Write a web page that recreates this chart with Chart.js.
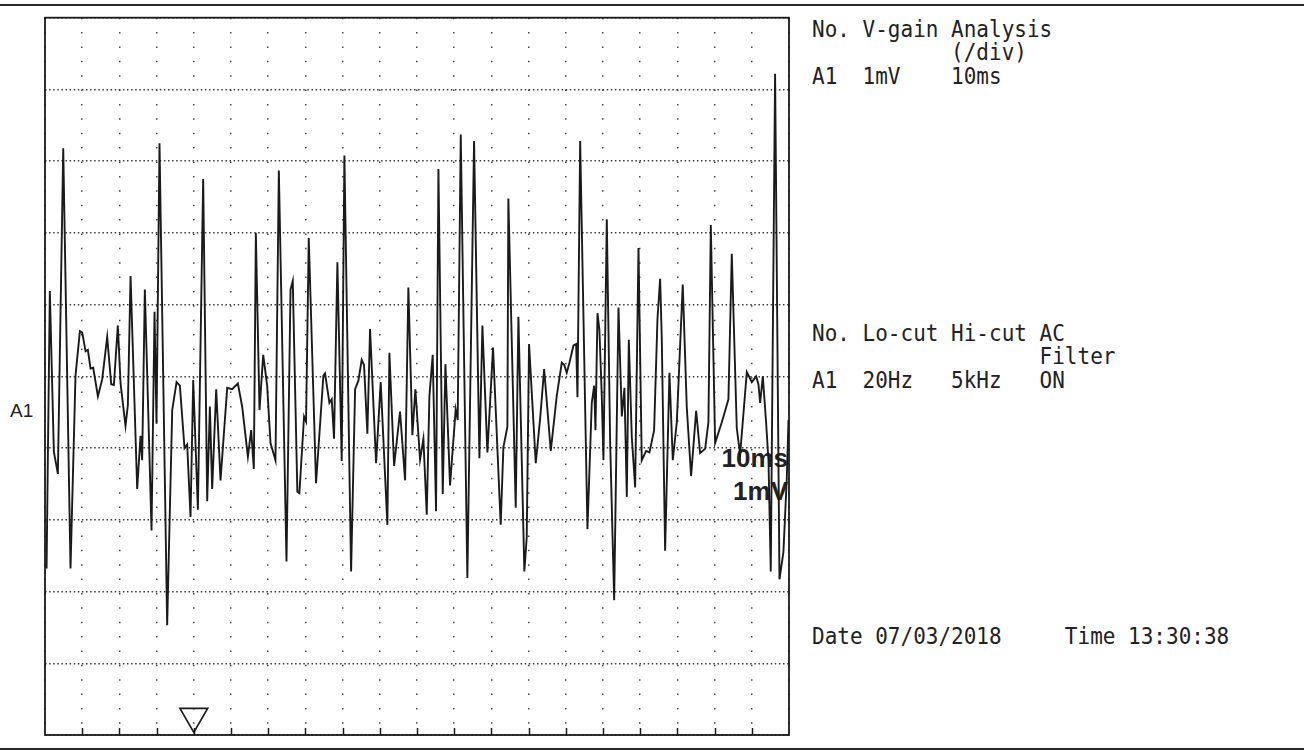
<!DOCTYPE html>
<html lang="en">
<head>
<meta charset="UTF-8">
<title>A1 - EMG trace</title>
<script src="https://cdn.jsdelivr.net/npm/chart.js"></script>
<style>
  * { margin: 0; padding: 0; box-sizing: border-box; }
  body { background: #fff; width: 1304px; height: 755px; overflow: hidden; }
  .page { position: relative; width: 1304px; height: 755px; }
  .rule { position: absolute; left: 0; width: 1304px; height: 2px; background: #2a2a2a; }
  .mono {
    position: absolute; left: 812px;
    font-family: 'DejaVu Sans Mono', monospace; font-size: 21px; line-height: 21.4px;
    white-space: pre; color: #222;
    transform: scaleY(1.1); transform-origin: 0 0;
  }
  .label { position: absolute; font-family: 'Liberation Sans', Arial, sans-serif; color: #222; }
  .scale { font-weight: bold; font-size: 26px; line-height: 26px; right: 516px; text-align: right; }
  #trace { position: absolute; left: 0; top: 0; }
</style>
</head>
<body>
<div class="page">
  <div class="rule" style="top:4px"></div>
  <div class="rule" style="top:748px"></div>

  <div class="label" style="left:10px; top:401px; font-size:19px; line-height:19px;">A1</div>
  <div class="label scale" style="top:445px;">10ms</div>
  <div class="label scale" style="top:478px;">1mV</div>

  <div class="mono" style="top:18px">No. V-gain Analysis
           (/div)
A1  1mV    10ms</div>
  <div class="mono" style="top:322px">No. Lo-cut Hi-cut AC
                  Filter
A1  20Hz   5kHz   ON</div>
  <div class="mono" style="top:625px">Date 07/03/2018     Time 13:30:38</div>

  <canvas id="trace" width="1304" height="755"></canvas>
</div>

<script>
// time axis in ms (10 ms / div, grid every 5 ms), amplitude in mV (1 mV / div)
const timeMs = [
  0.21, 0.65, 1.19, 1.73, 2.45, 3.43, 4.10, 4.69, 5.00, 5.45, 5.76, 6.12, 6.48, 7.11, 7.69,
  8.36, 8.90, 9.26, 9.79, 10.15, 10.82, 11.14, 11.50, 12.39, 12.84, 13.06, 13.42, 14.32, 14.72,
  14.99, 15.39, 16.42, 17.10, 17.68, 18.13, 18.75, 19.11, 19.56, 19.92, 20.55, 21.26, 21.80,
  22.16, 22.47, 23.01, 23.59, 24.49, 25.16, 25.92, 26.50, 27.27, 27.71, 28.07, 28.34, 28.83,
  29.33, 29.86, 30.31, 30.98, 31.43, 32.46, 33.00,
  33.30, 33.92, 34.19, 34.82, 35.09, 35.45, 36.43, 37.42, 37.64, 38.23, 38.54, 38.85, 39.30,
  39.88, 40.24, 41.14, 41.68, 42.12, 42.57, 42.88, 43.33, 43.69, 44.50, 45.12, 46.02, 46.29,
  46.92, 47.72, 48.40, 48.84, 49.38, 49.78, 50.41, 50.86, 51.31, 51.67, 52.11, 52.56, 52.88,
  53.46, 53.82, 54.44, 55.20, 55.47, 55.88, 56.77, 57.67, 58.39, 58.79, 59.46, 60.22, 61.25,
  61.61, 62.15, 62.28, 63.27, 63.63, 64.43, 64.75, 65.06, 65.96,
  66.55, 67.09, 67.98, 68.79, 69.46, 69.78, 70.13, 70.49, 71.03, 71.39, 71.57, 71.93, 72.91,
  73.49, 73.81, 73.99, 74.26, 74.52, 74.84, 75.06, 75.51, 75.96, 76.50, 77.08, 77.53, 77.88,
  78.20, 78.47, 78.87, 79.32, 79.77, 80.21, 80.80, 81.24, 81.87, 82.32, 82.68, 82.90, 83.35,
  83.93, 84.38, 84.92, 85.72, 86.26, 86.84, 87.52, 88.05, 88.73, 89.17, 89.49, 90.07, 90.97,
  91.86, 92.31, 92.98, 93.43, 94.33, 95.00, 95.58, 95.89, 96.12, 96.48, 96.92, 97.24, 97.55,
  98.13, 98.72, 99.25, 99.70, 99.93
];
const a1mV = [
  -2.68, 1.19, -1.05, -1.36, 3.18, -2.68, 0.01, 0.63, 0.61, 0.35, 0.37, 0.11, 0.12, -0.28, -0.04,
  0.55, -0.11, -0.12, 0.71, -0.09, -0.69, -0.40, 1.40, -1.57, -0.83, -1.17, 1.21, -2.15, 0.90,
  -0.66, 3.25, -3.47, -0.47, -0.08, -0.13, -1.00, -0.95, -1.96, -0.05, -1.86, 2.75, -1.74,
  -0.42, -1.57, -0.18, -1.45, -0.16, -0.18, -0.10, -0.42, -1.12, -0.75, -1.29, 2.00, -0.47,
  0.30, -0.13, -0.93, -1.17, 2.87, -2.58, 1.21,
  1.33, -1.61, -1.63, -0.56, -0.63, 1.93, -1.49, 0.01, 0.04, -0.37, -0.32, -0.87, 1.59,
  -1.18, 3.08, -2.72, -0.18, -0.06, 0.23, 0.16, -0.80, 0.66, -1.21, -0.08, -2.07, 0.33,
  -1.25, -0.49, -1.45, 1.24, -0.82, -0.18, -1.16, -0.87, -1.93, -0.27, 0.30, -1.88, 2.89,
  -1.64, 0.17, -1.52, -0.46, -0.61, 3.37, -2.81, 3.28, -1.14, 0.71, -1.06, 0.40, -2.07,
  -0.99, -0.70, 2.48, -1.83, 0.83, -2.72, -2.24, 0.45, -1.21,
  -0.59, 0.10, -1.04, -0.27, 0.19, 0.16, 0.05, 0.19, 0.43, 0.45, -0.29, 3.28, -2.13,
  -0.37, -0.13, -0.75, 0.88, 0.64, -0.29, -1.17, 2.19, -0.91, -3.12, 0.96, -0.56, -0.16,
  -1.68, 0.51, -0.85, -1.55, 1.79, -1.17, -1.04, -1.06, -0.75, 0.80, 1.36, 0.53, -2.43,
  0.05, -1.17, -0.64, 1.28, -0.43, -1.39, -0.48, -1.07, -1.01, -0.64, 2.11, -0.93, -0.64,
  -0.32, 1.71, -0.72, -1.09, 0.06, -0.08, 0.00, -0.11, -0.37, 0.00, -0.64, -1.17, -2.72,
  4.22, -2.83, -2.45, -1.43, -0.61
];
// trigger marker
const markerMs = [20];
const markerLevel = [-4.74];

const tracePoints = timeMs.map((t, i) => ({ x: t, y: a1mV[i] }));
const markerPoints = markerMs.map((t, i) => ({ x: t, y: markerLevel[i] }));

// frame + small tick marks along the bottom edge
const framePlugin = {
  id: 'frame',
  afterDatasetsDraw(chart) {
    const { ctx, chartArea: a, scales } = chart;
    ctx.save();
    ctx.strokeStyle = '#1a1a1a';
    ctx.lineWidth = 1.8;
    ctx.strokeRect(a.left, a.top, a.right - a.left, a.bottom - a.top);
    ctx.lineWidth = 1.5;
    scales.x.ticks.forEach(tk => {
      if (tk.value <= scales.x.min || tk.value >= scales.x.max) return;
      const px = Math.round(scales.x.getPixelForValue(tk.value)) + 0.5;
      ctx.beginPath();
      ctx.moveTo(px, a.bottom);
      ctx.lineTo(px, a.bottom - 7);
      ctx.stroke();
    });
    ctx.restore();
  }
};

new Chart(document.getElementById('trace'), {
  type: 'line',
  data: {
    datasets: [{
      label: 'A1',
      data: tracePoints,
      borderColor: '#1a1a1a',
      borderWidth: 1.9,
      pointRadius: 0,
      tension: 0,
      fill: false
    }, {
      label: 'trigger',
      data: markerPoints,
      showLine: false,
      pointStyle: 'triangle',
      rotation: 180,
      pointRadius: 16,
      borderColor: '#1a1a1a',
      backgroundColor: 'rgba(255,255,255,0)',
      borderWidth: 1.7
    }]
  },
  options: {
    responsive: false,
    animation: false,
    events: [],
    layout: { padding: { left: 45, top: 16, right: 515, bottom: 20 } },
    plugins: { legend: { display: false }, tooltip: { enabled: false } },
    scales: {
      x: {
        type: 'linear', min: 0, max: 100,
        ticks: { stepSize: 5, display: false },
        grid: { color: '#444', lineWidth: 1.5, drawTicks: false, borderDash: [1.5, 12.88] },
        border: { display: false, dash: [1.5, 12.88] }
      },
      y: {
        type: 'linear', min: -5, max: 5,
        ticks: { stepSize: 1, display: false },
        grid: { color: '#3a3a3a', lineWidth: 1.5, drawTicks: false, borderDash: [1.5, 2.6] },
        border: { display: false, dash: [1.5, 2.6] }
      }
    }
  },
  plugins: [framePlugin]
});
</script>
</body>
</html>
